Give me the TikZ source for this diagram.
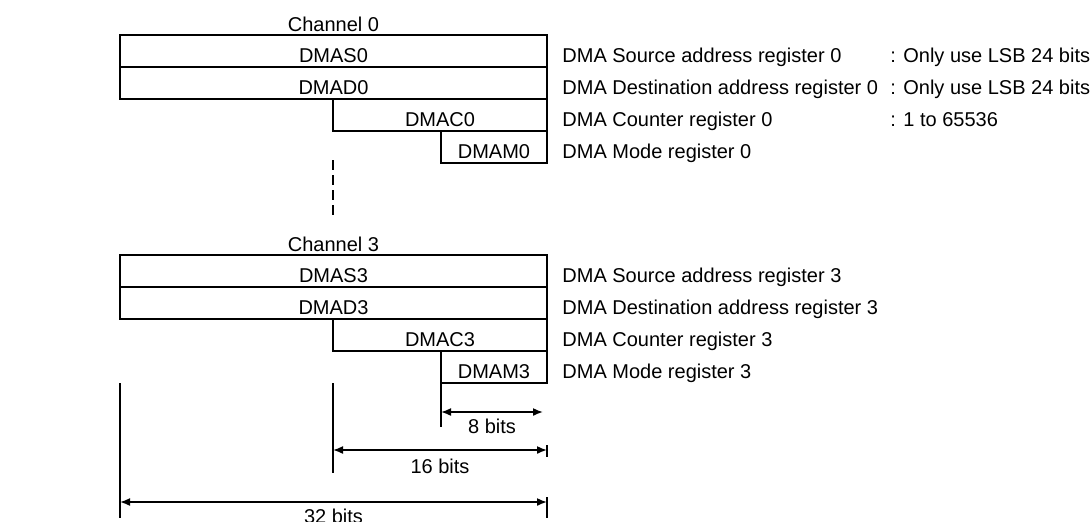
\documentclass[tikz,border=0pt]{standalone}
\usepackage{fontspec}
\setmainfont{Liberation Sans}
\usetikzlibrary{arrows.meta,positioning}

\begin{document}
\begin{tikzpicture}[x=0.5pt,y=-0.5pt,
    font=\fontsize{10pt}{12pt}\selectfont,
    reg/.style={draw, line width=1.1pt, minimum height=16pt, inner sep=0pt, outer sep=0pt,
        text height=11.7pt, text depth=0pt, anchor=north east},
    desc/.style={inner sep=0pt, text height=11.7pt, text depth=0pt, anchor=west},
    chan/.style={inner sep=0pt, text depth=0pt},
    ext/.style={line width=1.1pt},
    dim/.style={<->, >={Latex[length=5pt,width=4pt]}, line width=0.8pt},
    bits/.style={inner sep=0pt, text height=7.5pt, text depth=0pt}]
    \useasboundingbox (0,0) rectangle (1090,521);
    % register stacks of channel 0 and 3
    \foreach \c/\t in {0/35,3/255} {
        \node[reg, minimum width=213.5pt] (dmas\c) at (547,\t) {DMAS\c};
        \node[reg, minimum width=213.5pt] (dmad\c) at (dmas\c.south east) {DMAD\c};
        \node[reg, minimum width=107pt] (dmac\c) at (dmad\c.south east) {DMAC\c};
        \node[reg, minimum width=53pt] (dmam\c) at (dmac\c.south east) {DMAM\c};
        \node[chan, above=1.75pt of dmas\c.north] (chan\c) {Channel \c};
        \node[desc, right=7.5pt of dmas\c.east] (srcd\c) {DMA Source address register \c};
        \node[desc, right=7.5pt of dmad\c.east] (dstd\c) {DMA Destination address register \c};
        \node[desc, right=7.5pt of dmac\c.east] (cntd\c) {DMA Counter register \c};
        \node[desc, right=7.5pt of dmam\c.east] (moded\c) {DMA Mode register \c};
    }
    \node[desc] (srcn) at (890,0 |- srcd0) {: Only use LSB 24 bits};
    \node[desc] (dstn) at (890,0 |- dstd0) {: Only use LSB 24 bits};
    \node[desc] (cntn) at (890,0 |- cntd0) {: 1 to 65536};
    \draw[line width=0.8pt, dash pattern=on 5pt off 2.5pt]
        ([yshift=-14.5pt]dmac0.south west) -- ([yshift=-43.5pt]dmac0.south west);
    % bit widths
    \draw[ext] (dmad3.south west |- dmam3.south) -- ++(0,135);
    \draw[ext] (dmac3.south west |- dmam3.south) -- ++(0,90);
    \draw[ext] (dmam3.south west) -- ++(0,44);
    \draw[ext] (547,445) -- (547,457);
    \draw[ext] (547,497) -- (547,518);
    \draw[dim] (dmam3.south west |- 0,412) -- (543,412)
        node[bits, midway, below=3pt] (b8) {8 bits};
    \draw[dim] (dmac3.south west |- 0,450) -- (dmac3.south east |- 0,450)
        node[bits, midway, below=4pt] (b16) {16 bits};
    \draw[dim] (dmad3.south west |- 0,502) -- (dmad3.south east |- 0,502)
        node[bits, midway, below=3pt] (b32) {32 bits};
\end{tikzpicture}
\end{document}
